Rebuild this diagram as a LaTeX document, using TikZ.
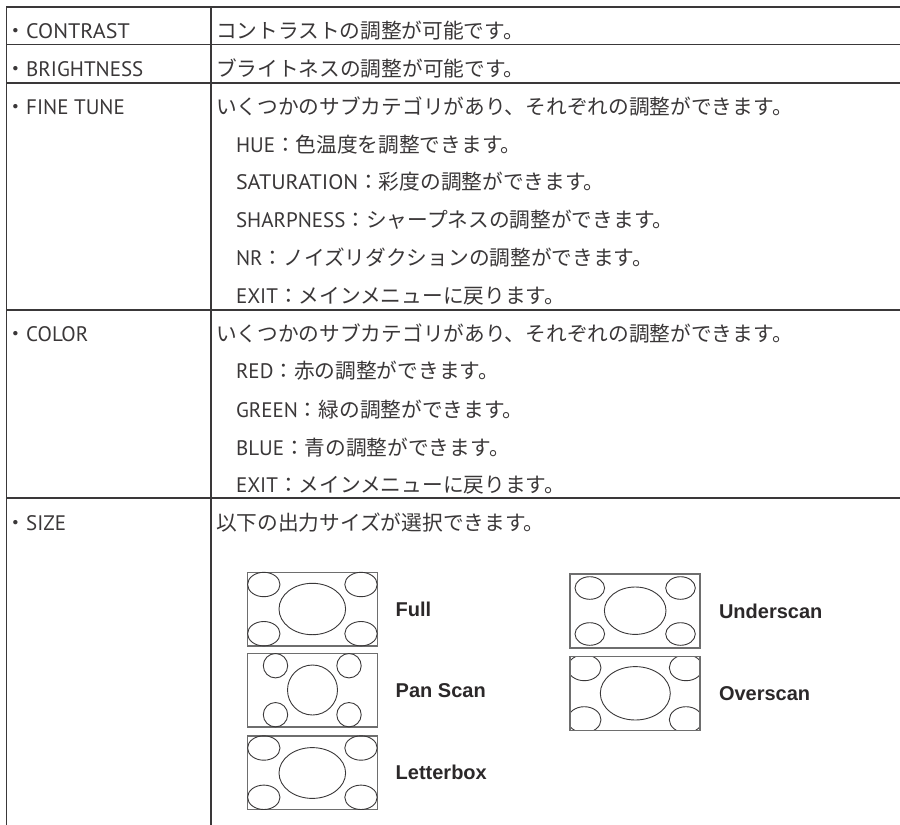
\documentclass[tikz,border=0pt]{standalone}
\usepackage{fontspec}
\setmainfont{Noto Sans CJK JP}
\newfontfamily\latf{PT Sans}
\newfontfamily\latwide[FakeStretch=1.05]{PT Sans}
\newfontfamily\labf{Liberation Sans}
\definecolor{ink}{HTML}{3A3738}
\definecolor{labink}{HTML}{2B2829}
\definecolor{rule}{HTML}{3A3839}
\definecolor{frame}{HTML}{6E6E6E}
\newcommand{\La}[1]{{\latf\fontsize{21}{24}\selectfont #1}}
\newcommand{\LaW}[1]{{\latwide\fontsize{21}{24}\selectfont #1}}
\newcommand{\Co}{\symbol{"FF1A}}
\tikzset{
  rulel/.style={draw=rule,line width=1.4pt},
  txt/.style={anchor=base west,inner sep=0pt,outer sep=0pt,text=ink,font=\fontsize{20.7}{24}\selectfont},
  lab/.style={anchor=base west,inner sep=0pt,outer sep=0pt,text=labink,font=\labf\bfseries\fontsize{20}{24}\selectfont},
  frm/.style={draw=frame,line width=1.2pt},
  ell/.style={draw=rule,line width=0.9pt}
}
\begin{document}
\begin{tikzpicture}[x=1pt,y=-1pt]
\useasboundingbox (0,0) rectangle (900,825);
% table rules
\draw[rulel] (900,7) -- (6.5,7) -- (6.5,825);
\draw[rulel] (211,7) -- (211,825);
\foreach \yy in {44.5,83,310,498}{\draw[rulel] (6.5,\yy) -- (900,\yy);}
% left column
\node[txt] (n1) at (5.5,38) {・\LaW{CONTRAST}};
\node[txt] (n2) at (5.5,76) {・\La{BRIGHTNESS}};
\node[txt] (n3) at (5.5,114) {・\La{FINE TUNE}};
\node[txt] (n4) at (5.5,341) {・\La{COLOR}};
\node[txt] (n5) at (5.5,530) {・\La{SIZE}};
% right column
\node[txt] (d1) at (216,38) {コントラストの調整が可能です。};
\node[txt] (d2) at (216,76) {ブライトネスの調整が可能です。};
\node[txt] (d3) at (216,114) {いくつかのサブカテゴリがあり、それぞれの調整ができます。};
\node[txt] (d3a) at (236,152) {\La{HUE}\Co 色温度を調整できます。};
\node[txt] (d3b) at (236,189) {\LaW{SATURATION}\Co 彩度の調整ができます。};
\node[txt] (d3c) at (236,227) {\La{SHARPNESS}\Co シャープネスの調整ができます。};
\node[txt] (d3d) at (236,265) {\La{NR}\Co ノイズリダクションの調整ができます。};
\node[txt] (d3e) at (236,303) {\La{EXIT}\Co メインメニューに戻ります。};
\node[txt] (d4) at (216,341) {いくつかのサブカテゴリがあり、それぞれの調整ができます。};
\node[txt] (d4a) at (236,378) {\La{RED}\Co 赤の調整ができます。};
\node[txt] (d4b) at (236,417) {\La{GREEN}\Co 緑の調整ができます。};
\node[txt] (d4c) at (236,455) {\La{BLUE}\Co 青の調整ができます。};
\node[txt] (d4d) at (236,492) {\La{EXIT}\Co メインメニューに戻ります。};
\node[txt] (d5) at (216,530) {以下の出力サイズが選択できます。};
% Full
\draw[frm] (247.3,572.3) rectangle (377.3,646);
\draw[ell] (312.3,609) ellipse [x radius=33.3,y radius=25.7];
\foreach \cx in {263.8,361}\foreach \cy in {584.5,633.7}{\draw[ell] (\cx,\cy) ellipse [x radius=16.2,y radius=12.2];}
\node[lab] (full) at (395.7,616.7) {Full};
% Pan Scan
\draw[frm] (247.3,653.7) rectangle (377.3,727);
\draw[ell] (312.5,690) circle [radius=25];
\foreach \cx in {275.5,349}\foreach \cy in {665.7,714.7}{\draw[ell] (\cx,\cy) circle [radius=12.2];}
\node[lab] (pan) at (395.7,697.7) {Pan Scan};
% Letterbox
\draw[frm] (247.3,736) rectangle (377.3,809.7);
\draw[ell] (312.3,773) ellipse [x radius=33.3,y radius=25.4];
\foreach \cx in {263.8,361}\foreach \cy in {748,797.3}{\draw[ell] (\cx,\cy) ellipse [x radius=16.2,y radius=12.2];}
\node[lab] (letter) at (395.7,779) {Letterbox};
% Underscan
\draw[frm] (570,574) rectangle (700,648);
\draw[ell] (635.2,610.7) ellipse [x radius=30.8,y radius=23.7];
\foreach \cx in {589.8,680.5}\foreach \cy in {588,634}{\draw[ell] (\cx,\cy) ellipse [x radius=14.8,y radius=11.3];}
\node[lab] (under) at (719,618.7) {Underscan};
% Overscan
\begin{scope}
\clip (570,656.7) rectangle (700,730.3);
\foreach \cx in {584.3,686}\foreach \cy in {667.7,719.7}{\draw[ell] (\cx,\cy) ellipse [x radius=16.7,y radius=13];}
\end{scope}
\draw[frm] (570,656.7) rectangle (700,730.3);
\draw[ell] (635.3,693.3) ellipse [x radius=35,y radius=26.7];
\node[lab] (over) at (719,700.3) {Overscan};
\end{tikzpicture}
\end{document}
